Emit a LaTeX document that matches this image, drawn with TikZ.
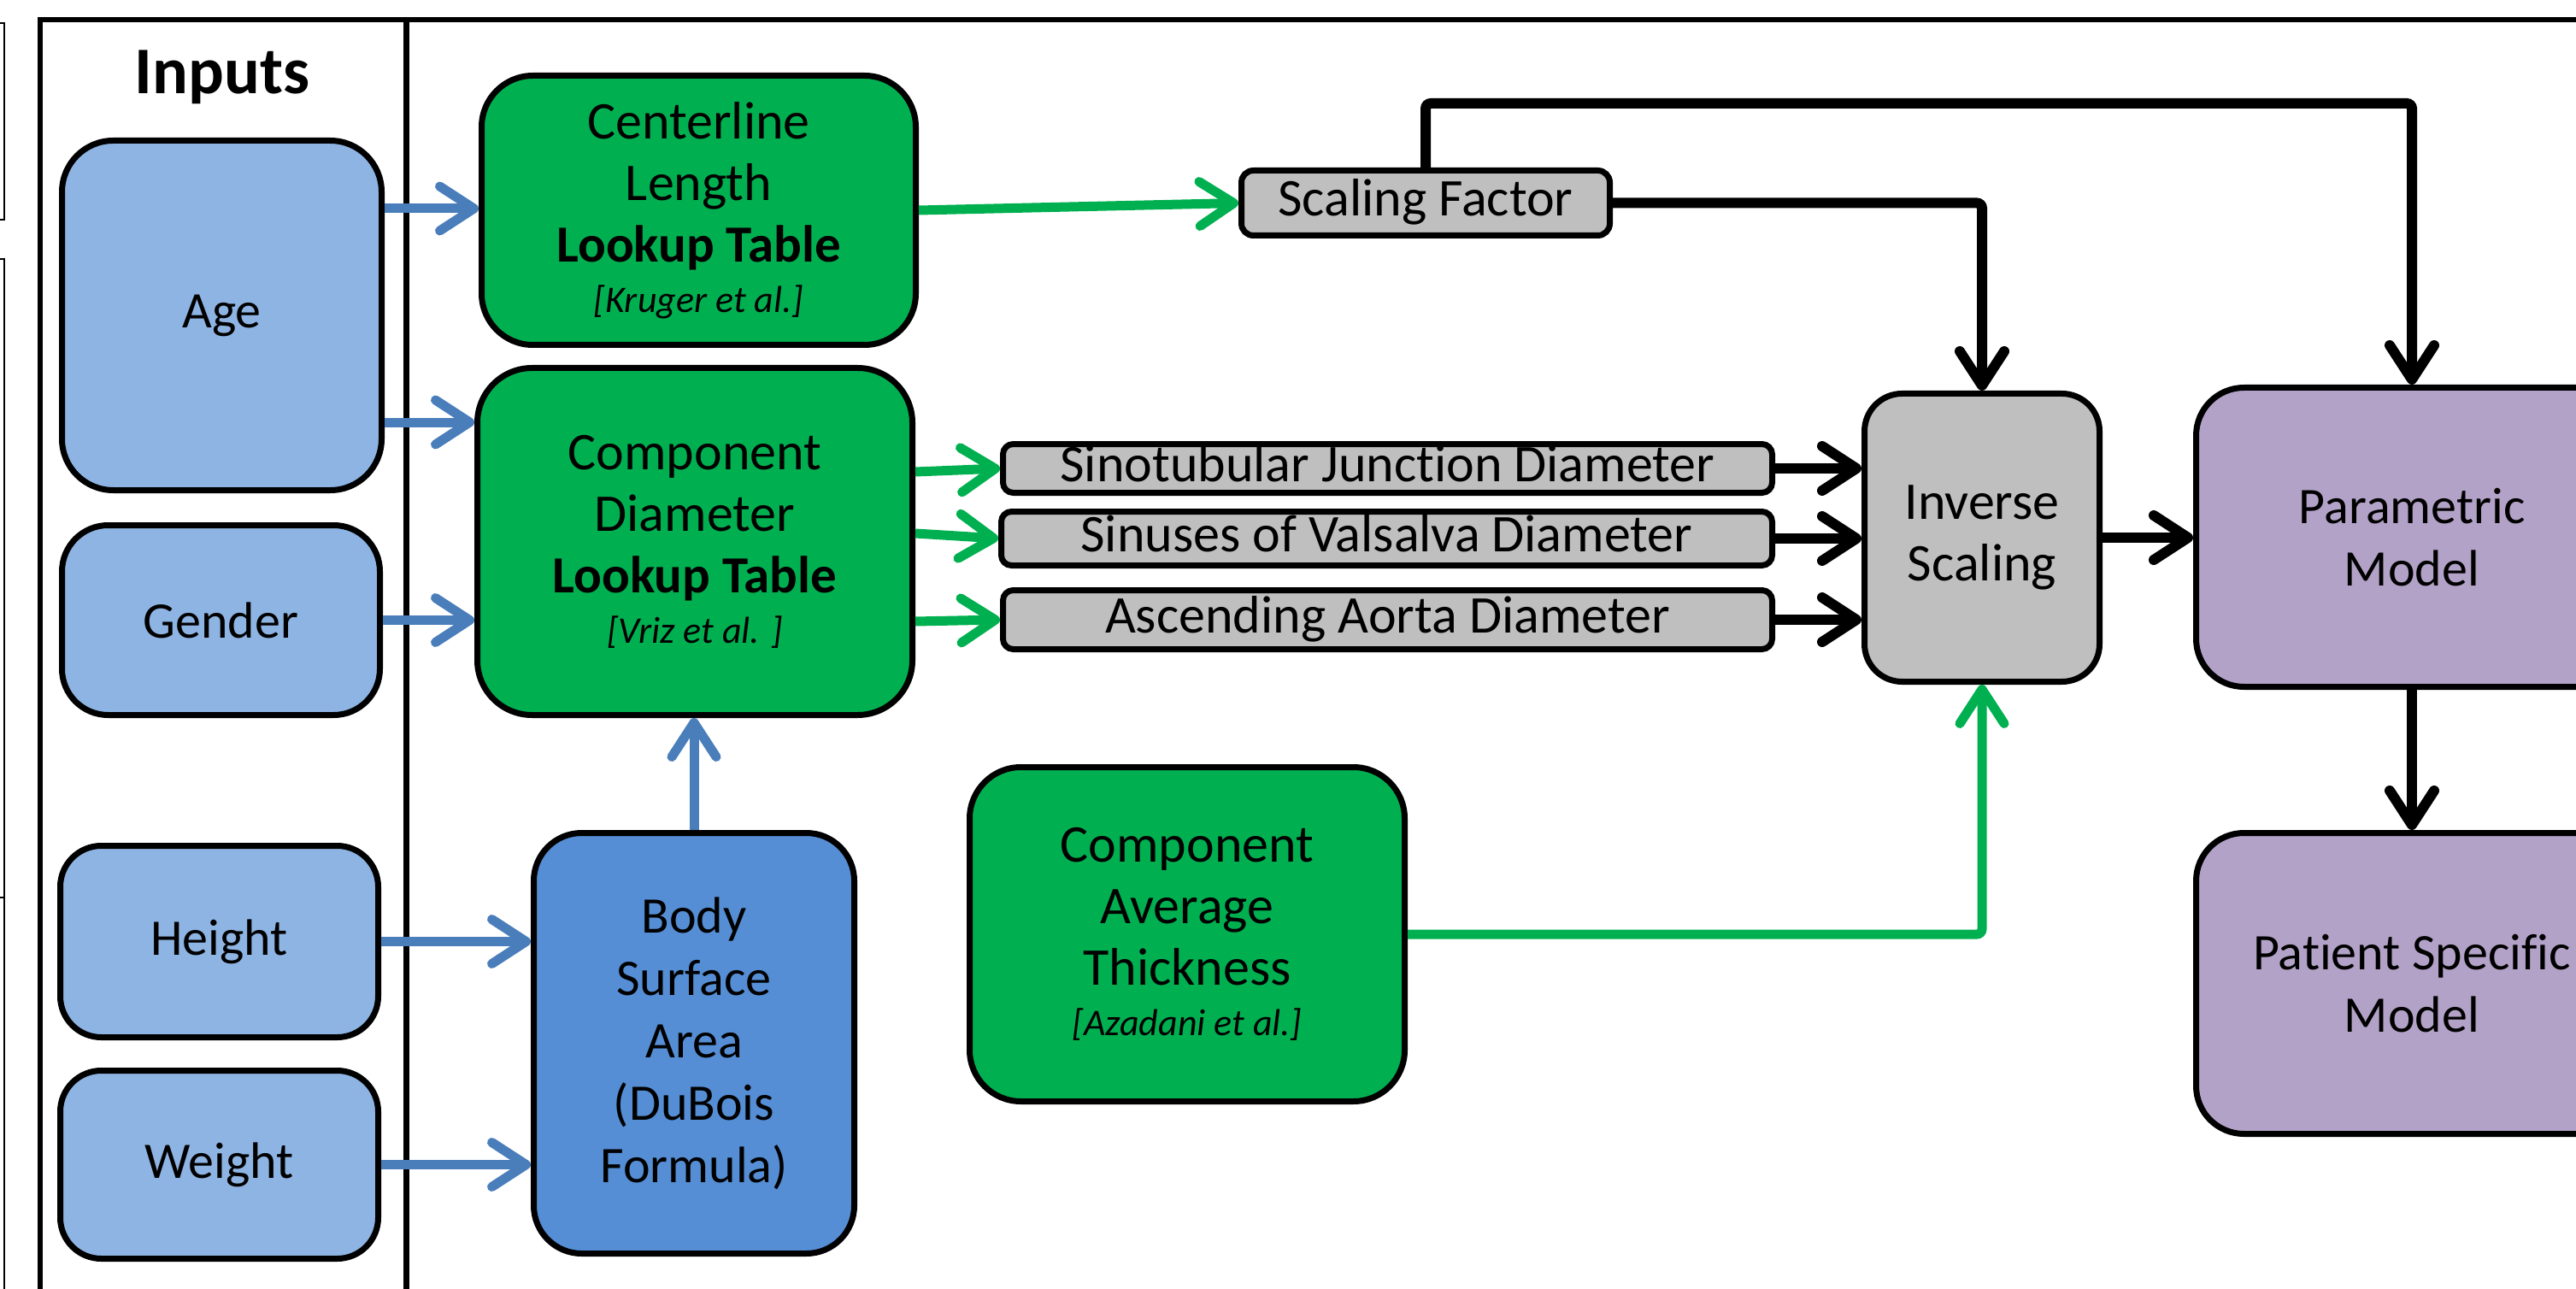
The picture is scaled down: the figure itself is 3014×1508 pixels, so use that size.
\documentclass[tikz,border=0pt]{standalone}
\usepackage{fontspec}
\setmainfont{Carlito}[Ligatures=NoCommon]
\usetikzlibrary{arrows.meta}
\definecolor{inblue}{HTML}{8EB4E3}
\definecolor{bsablue}{HTML}{558ED5}
\definecolor{lgreen}{HTML}{00B050}
\definecolor{lgray}{HTML}{BFBFBF}
\definecolor{lpurple}{HTML}{B3A2C7}
\definecolor{arrblue}{HTML}{4A7EBB}
\newcommand\mainsz{\fontsize{30pt}{36.5pt}\selectfont}
\newcommand\greensz{\fontsize{31pt}{36pt}\selectfont}
\newcommand\graysz{\fontsize{31pt}{36pt}\selectfont}
\newcommand\lookup{{\bfseries\fontsize{30.5pt}{36pt}\selectfont Lookup Table}}
\newcommand\citetxt[1]{{\itshape\fontsize{22pt}{25pt}\selectfont #1}}
\begin{document}
\begin{tikzpicture}[x=0.5pt,y=-0.5pt,
  box/.style={draw=black, line width=3.5pt, inner sep=0pt, align=center, font=\mainsz},
  inbox/.style={box, fill=inblue},
  gbox/.style={box, fill=lgreen, font=\greensz},
  graybox/.style={box, fill=lgray, font=\graysz, text height=20pt, text depth=5pt},
  pbox/.style={box, fill=lpurple},
  conn/.style={line width=5.5pt, -{Straight Barb[length=20pt,width=26pt,round]}},
  bluec/.style={conn, draw=arrblue},
  greenc/.style={conn, draw=lgreen},
  blackc/.style={conn, line width=6pt, draw=black}]
\useasboundingbox (0,0) rectangle (3014,1508);
\clip (0,0) rectangle (3014,1508);

% frame
\draw[line width=2.75pt] (47,1530) -- (47,23) -- (3040,23);
\draw[line width=3.5pt] (475,23) -- (475,1530);
% cropped neighbour panels at far left
\draw[line width=1pt] (-5,27) -- (5,27) -- (5,257) -- (-5,257);
\draw[line width=1pt] (-5,303) -- (5,303) -- (5,1530);
\draw[line width=1pt] (-5,1050) -- (5,1050);

\node[font=\bfseries\fontsize{39pt}{44pt}\selectfont, anchor=base] (inputs) at (260,110) {Inputs};

% inputs
\node[inbox, rounded corners=30pt, minimum width=187pt, minimum height=204.5pt] (age) at (259.5,369) {Age};
\node[inbox, rounded corners=27pt, minimum width=186pt, minimum height=111pt] (gender) at (258.5,725.5) {Gender};
\node[inbox, rounded corners=24pt, minimum width=186pt, minimum height=112pt] (height) at (256.5,1101.5) {Height};
\node[inbox, rounded corners=24pt, minimum width=186pt, minimum height=110pt] (weight) at (256.5,1362.5) {Weight};

% green lookup boxes
\node[gbox, rounded corners=30pt, minimum width=254pt, minimum height=157.5pt] (cl) at (817.5,246)
  {Centerline\\Length\\\lookup\\[-6.5pt]\citetxt{[Kruger et al.]}};
\node[gbox, rounded corners=32pt, minimum width=254.5pt, minimum height=203pt] (cd) at (813,633.5)
  {Component\\Diameter\\\lookup\\[-6.5pt]\citetxt{[Vriz et al. ]}};
\node[box, fill=bsablue, rounded corners=28pt, minimum width=187.5pt, minimum height=246pt] (bsa) at (812,1220.5)
  {Body\\Surface\\Area\\(DuBois\\Formula)};
\node[gbox, rounded corners=30pt, minimum width=254.5pt, minimum height=195.5pt] (cat) at (1389,1093)
  {Component\\Average\\Thickness\\[-6.5pt]\citetxt{[Azadani et al.]}};

% gray boxes
\node[graybox, rounded corners=7pt, minimum width=215.5pt, minimum height=38pt] (sf) at (1668,237.5) {Scaling Factor};
\node[graybox, rounded corners=6pt, minimum width=450pt, minimum height=28.5pt] (stj) at (1623.5,548) {Sinotubular Junction Diameter};
\node[graybox, rounded corners=6pt, minimum width=451pt, minimum height=31.5pt] (sov) at (1622.5,630) {Sinuses of Valsalva Diameter};
\node[graybox, rounded corners=6pt, minimum width=450pt, minimum height=34.5pt] (aad) at (1623.5,725) {Ascending Aorta Diameter};
\node[box, fill=lgray, font=\greensz, rounded corners=22pt, minimum width=137.5pt, minimum height=168.5pt] (inv) at (2319,629) {Inverse\\Scaling};

% purple boxes
\node[pbox, rounded corners=28pt, minimum width=252.5pt, minimum height=175pt] (pm) at (2822,628.5) {Parametric\\Model};
\node[pbox, rounded corners=28pt, minimum width=252.5pt, minimum height=176pt] (psm) at (2822,1150.5) {Patient Specific\\Model};

% blue connectors
\draw[bluec] (age.east |- 0,244) -- (cl.west |- 0,244);
\draw[bluec] (age.east |- 0,494) -- (cd.west |- 0,494);
\draw[bluec] (gender.east) -- (gender.east -| cd.west);
\draw[bluec] (height.east) -- (height.east -| bsa.west);
\draw[bluec] (weight.east) -- (weight.east -| bsa.west);
\draw[bluec] (bsa.north) -- (bsa.north |- cd.south);

% green connectors
\draw[greenc] (cl.east) -- (sf.west);
\draw[greenc] (cd.east |- 0,552) -- (stj.west);
\draw[greenc] (cd.east |- 0,624) -- (sov.west);
\draw[greenc] (cd.east |- 0,727) -- (aad.west);
\draw[greenc, rounded corners=3pt] (cat.east) -| (inv.south);

% black connectors
\draw[blackc] (stj.east) -- (stj.east -| inv.west);
\draw[blackc] (sov.east) -- (sov.east -| inv.west);
\draw[blackc] (aad.east) -- (aad.east -| inv.west);
\draw[blackc] (inv.east) -- (inv.east -| pm.west);
\draw[blackc, rounded corners=3pt] (sf.east) -| (inv.north);
\draw[blackc, rounded corners=3pt] (sf.north) -- (sf.north |- 0,121) -| (pm.north);
\draw[blackc] (pm.south) -- (psm.north);
\end{tikzpicture}
\end{document}
